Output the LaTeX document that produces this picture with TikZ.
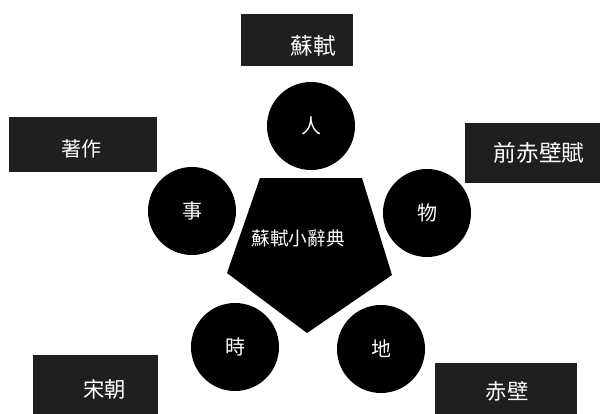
\documentclass[tikz,border=0pt]{standalone}
\usepackage{fontspec}
\newfontfamily\cjk{Noto Sans CJK TC}
\begin{document}
\begin{tikzpicture}[x=0.75pt,y=-0.75pt,
  boxstyle/.style={draw=none,fill=black!88,inner sep=0,anchor=north west},
  boxtext/.style={text=white,font=\cjk\fontsize{#1}{#1}\selectfont,inner sep=0},
  ball/.style={circle,fill=black,text=white,inner sep=0,minimum size=66pt,font=\cjk\fontsize{15}{15}\selectfont}]
\useasboundingbox (0,0) rectangle (604,414);
% boxes
\node[boxstyle,minimum width=112*0.75pt,minimum height=52*0.75pt] (b1) at (241,14) {};
\node[boxtext=17] (t1) at (313,46) {蘇軾};
\node[boxstyle,minimum width=148*0.75pt,minimum height=55*0.75pt] (b2) at (9,117) {};
\node[boxtext=15] (t2) at (81,149) {著作};
\node[boxstyle,minimum width=135*0.75pt,minimum height=60*0.75pt] (b3) at (465,123) {};
\node[boxtext=17] (t3) at (539,153) {前赤壁賦};
\node[boxstyle,minimum width=125*0.75pt,minimum height=59*0.75pt] (b4) at (33,355) {};
\node[boxtext=16] (t4) at (105,389) {宋朝};
\node[boxstyle,minimum width=142*0.75pt,minimum height=51*0.75pt] (b5) at (435,363) {};
\node[boxtext=16] (t5) at (507,391) {赤壁};
% pentagon
\fill[black] (260,178) -- (362,178) -- (392,275) -- (307,333) -- (227,273) -- cycle;
\node[text=white,inner sep=0,font=\cjk\fontsize{14}{14}\selectfont] (center) at (298,238) {蘇軾小辭典};
% circles
\node[ball] (ren) at (311,126) {人};
\node[ball] (shi) at (192,211) {事};
\node[ball] (wu) at (427,213) {物};
\node[ball] (shi2) at (235,347) {時};
\node[ball] (di) at (381,349) {地};
\end{tikzpicture}
\end{document}
